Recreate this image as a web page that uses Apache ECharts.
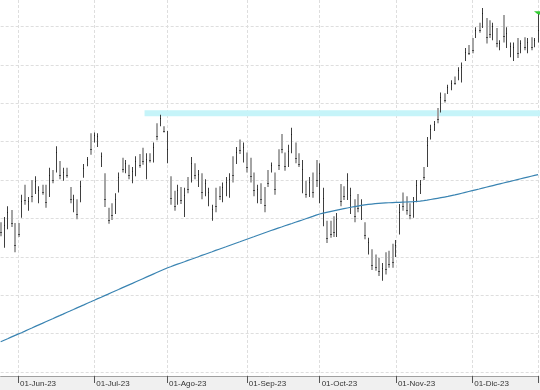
<!DOCTYPE html>
<html>
<head>
<meta charset="utf-8">
<script src="https://cdn.jsdelivr.net/npm/echarts@6/dist/echarts.min.js"></script>
<style>
html,body{margin:0;padding:0;}
#chart{width:540px;height:390px;background:linear-gradient(to bottom,#ffffff 0,#ffffff 376px,#f0f0f0 376px,#f0f0f0 390px);}
</style>
</head>
<body>
<div id="chart"></div>
<script>
const dates = [
'2023-05-25','2023-05-26','2023-05-29','2023-05-30','2023-05-31',
'2023-06-01','2023-06-02','2023-06-05','2023-06-06','2023-06-07','2023-06-08','2023-06-09','2023-06-12','2023-06-13','2023-06-14','2023-06-15','2023-06-16','2023-06-19','2023-06-20','2023-06-21','2023-06-22','2023-06-23','2023-06-26','2023-06-27','2023-06-28','2023-06-29','2023-06-30',
'2023-07-03','2023-07-04','2023-07-05','2023-07-06','2023-07-07','2023-07-10','2023-07-11','2023-07-12','2023-07-13','2023-07-14','2023-07-17','2023-07-18','2023-07-19','2023-07-20','2023-07-21','2023-07-24','2023-07-25','2023-07-26','2023-07-27','2023-07-28','2023-07-31',
'2023-08-01','2023-08-02','2023-08-03','2023-08-04','2023-08-07','2023-08-08','2023-08-09','2023-08-10','2023-08-11','2023-08-14','2023-08-15','2023-08-16','2023-08-17','2023-08-18','2023-08-21','2023-08-22','2023-08-23','2023-08-24','2023-08-25','2023-08-28','2023-08-29','2023-08-30','2023-08-31',
'2023-09-01','2023-09-04','2023-09-05','2023-09-06','2023-09-07','2023-09-08','2023-09-11','2023-09-12','2023-09-13','2023-09-14','2023-09-15','2023-09-18','2023-09-19','2023-09-20','2023-09-21','2023-09-22','2023-09-25','2023-09-26','2023-09-27','2023-09-28','2023-09-29',
'2023-10-02','2023-10-03','2023-10-04','2023-10-05','2023-10-06','2023-10-09','2023-10-10','2023-10-11','2023-10-12','2023-10-13','2023-10-16','2023-10-17','2023-10-18','2023-10-19','2023-10-20','2023-10-23','2023-10-24','2023-10-25','2023-10-26','2023-10-27','2023-10-30','2023-10-31',
'2023-11-01','2023-11-02','2023-11-03','2023-11-06','2023-11-07','2023-11-08','2023-11-09','2023-11-10','2023-11-13','2023-11-14','2023-11-15','2023-11-16','2023-11-17','2023-11-20','2023-11-21','2023-11-22','2023-11-23','2023-11-24','2023-11-27','2023-11-28','2023-11-29','2023-11-30',
'2023-12-01','2023-12-04','2023-12-05','2023-12-06','2023-12-07','2023-12-08','2023-12-11','2023-12-12','2023-12-13','2023-12-14','2023-12-15','2023-12-18','2023-12-19','2023-12-20','2023-12-21','2023-12-22','2023-12-27','2023-12-28','2023-12-29',
'2024-01-02'
];

const opens = [
8.91,8.72,8.94,9.06,8.85,8.90,9.08,9.37,9.14,9.43,
9.38,9.26,9.40,9.36,9.37,9.59,9.69,9.69,9.53,9.62,
9.36,9.14,9.19,9.28,9.57,9.71,10.04,10.03,9.97,9.72,
9.48,9.08,9.15,9.13,9.41,9.74,9.63,9.65,9.51,9.62,
9.79,9.86,9.60,9.82,9.80,10.19,10.24,10.18,9.80,9.46,
9.29,9.24,9.35,9.11,9.49,9.56,9.67,9.46,9.51,9.35,
9.22,9.02,9.32,9.38,9.28,9.35,9.35,9.73,9.76,9.98,
9.80,9.80,9.71,9.53,9.26,9.39,9.33,9.58,9.64,9.53,
9.84,10.04,9.80,9.74,9.93,9.93,9.81,9.44,9.43,9.34,
9.52,9.67,9.33,9.03,8.90,8.91,8.96,8.84,9.38,9.38,
9.33,9.14,9.18,9.26,9.05,8.90,8.58,8.54,8.47,8.43,
8.25,8.49,8.52,8.59,8.55,8.89,9.28,9.23,9.15,9.07,
9.29,9.36,9.63,9.77,10.08,10.17,10.39,10.45,10.60,10.65,
10.70,10.82,10.84,10.84,11.09,11.22,11.30,11.38,11.52,11.54,
11.53,11.52,11.38,11.41,11.22,11.56,11.28,11.15,11.11,11.28,
11.19,11.32,11.20,11.32,11.26,11.33
];
const highs = [
8.95,9.02,9.16,9.11,8.94,8.94,9.31,9.44,9.28,9.50,
9.55,9.42,9.44,9.44,9.66,9.63,9.94,9.75,9.66,9.66,
9.41,9.31,9.25,9.49,9.71,9.80,10.11,10.12,10.11,9.86,
9.59,9.14,9.20,9.33,9.60,9.79,9.76,9.70,9.67,9.81,
9.84,9.92,9.85,9.85,9.99,10.24,10.35,10.20,10.14,9.55,
9.36,9.44,9.41,9.40,9.54,9.80,9.72,9.63,9.59,9.51,
9.40,9.18,9.40,9.42,9.47,9.54,9.59,9.81,9.93,10.03,
9.99,9.86,9.79,9.60,9.44,9.46,9.41,9.63,9.73,9.60,
9.90,10.10,9.86,9.96,10.18,9.99,9.85,9.76,9.49,9.54,
9.60,9.76,9.72,9.40,8.97,8.97,9.03,9.07,9.45,9.42,
9.59,9.40,9.25,9.32,9.25,8.95,8.75,8.60,8.53,8.49,
8.42,8.56,8.58,8.67,8.72,9.19,9.34,9.29,9.20,9.28,
9.50,9.50,9.67,10.06,10.22,10.27,10.44,10.64,10.63,10.74,
10.80,10.85,10.97,11.03,11.22,11.26,11.35,11.49,11.55,11.74,
11.61,11.58,11.55,11.48,11.32,11.65,11.49,11.29,11.29,11.35,
11.32,11.36,11.35,11.36,11.35,11.68
];
const lows = [
8.77,8.62,8.86,8.89,8.56,8.76,9.01,9.18,9.10,9.21,
9.32,9.20,9.31,9.14,9.28,9.46,9.60,9.51,9.49,9.53,
9.20,9.08,8.99,9.21,9.53,9.68,9.83,9.99,9.93,9.67,
9.15,8.93,8.98,9.06,9.34,9.60,9.59,9.51,9.46,9.55,
9.66,9.70,9.51,9.73,9.73,10.02,10.20,10.12,9.72,9.18,
9.10,9.18,9.19,9.02,9.33,9.47,9.51,9.41,9.25,9.29,
9.16,8.97,9.08,9.24,9.21,9.29,9.27,9.47,9.71,9.84,
9.73,9.60,9.47,9.29,9.20,9.19,9.08,9.41,9.60,9.31,
9.63,9.85,9.62,9.67,9.85,9.72,9.67,9.33,9.27,9.28,
9.27,9.41,9.20,8.90,8.68,8.75,8.76,8.76,9.16,9.24,
9.24,9.06,8.95,9.08,8.98,8.73,8.53,8.33,8.32,8.25,
8.19,8.27,8.36,8.36,8.50,8.79,9.10,9.05,8.99,9.01,
9.21,9.32,9.50,9.67,10.03,10.14,10.24,10.38,10.51,10.62,
10.67,10.74,10.80,10.77,11.05,11.13,11.15,11.35,11.42,11.48,
11.28,11.35,11.32,11.23,11.19,11.29,11.22,11.10,11.05,11.09,
11.15,11.19,11.15,11.19,11.23,11.29
];
const closes = [
8.82,8.92,9.09,8.94,8.66,8.80,9.23,9.24,9.23,9.29,
9.49,9.37,9.34,9.21,9.56,9.50,9.86,9.57,9.61,9.56,
9.25,9.25,9.06,9.42,9.66,9.77,9.90,10.09,10.07,9.82,
9.26,8.98,9.04,9.26,9.54,9.65,9.72,9.56,9.62,9.75,
9.70,9.75,9.77,9.76,9.93,10.08,10.31,10.14,9.90,9.27,
9.16,9.37,9.24,9.30,9.38,9.72,9.56,9.58,9.34,9.46,
9.34,9.12,9.16,9.29,9.41,9.48,9.51,9.56,9.87,9.89,
9.93,9.67,9.55,9.37,9.38,9.26,9.17,9.46,9.70,9.38,
9.70,9.91,9.68,9.88,10.10,9.79,9.71,9.65,9.32,9.47,
9.35,9.50,9.59,9.27,8.75,8.80,8.83,8.99,9.23,9.29,
9.50,9.31,9.03,9.14,9.18,8.79,8.69,8.40,8.37,8.31,
8.36,8.34,8.41,8.43,8.66,9.09,9.16,9.11,9.04,9.21,
9.43,9.45,9.54,9.96,10.17,10.23,10.29,10.58,10.54,10.71,
10.77,10.77,10.93,10.97,11.17,11.16,11.20,11.45,11.46,11.67,
11.36,11.40,11.50,11.29,11.29,11.38,11.42,11.25,11.23,11.15,
11.28,11.23,11.30,11.23,11.32,11.45
];
const ma = [
7.394,7.414,7.434,7.455,7.475,7.494,7.513,7.533,7.554,7.574,
7.595,7.615,7.634,7.655,7.675,7.695,7.716,7.735,7.755,7.776,
7.795,7.815,7.836,7.855,7.875,7.896,7.915,7.935,7.956,7.975,
7.995,8.015,8.036,8.056,8.075,8.096,8.116,8.136,8.155,8.176,
8.196,8.216,8.236,8.256,8.276,8.296,8.316,8.336,8.356,8.372,
8.389,8.405,8.421,8.437,8.454,8.470,8.486,8.502,8.519,8.535,
8.551,8.567,8.584,8.600,8.616,8.632,8.649,8.665,8.681,8.697,
8.714,8.730,8.746,8.762,8.779,8.795,8.811,8.827,8.843,8.859,
8.874,8.889,8.905,8.920,8.935,8.951,8.966,8.981,8.997,9.012,
9.027,9.043,9.058,9.069,9.080,9.090,9.100,9.110,9.119,9.128,
9.137,9.146,9.154,9.162,9.170,9.177,9.183,9.188,9.193,9.197,
9.200,9.203,9.205,9.207,9.209,9.211,9.213,9.215,9.217,9.219,
9.222,9.226,9.232,9.239,9.247,9.255,9.263,9.271,9.279,9.287,
9.297,9.307,9.318,9.329,9.340,9.351,9.362,9.373,9.384,9.396,
9.407,9.418,9.429,9.440,9.451,9.462,9.473,9.484,9.495,9.506,
9.517,9.528,9.539,9.550,9.561,9.572
];
const band = [[42, 10.33, 10.41]];
const monthTickDates = ['2023-06-01','2023-07-03','2023-08-01','2023-09-01','2023-10-02','2023-11-01','2023-12-01','2024-01-02'];
const monthTickLabels = ['01-Jun-23','01-Jul-23','01-Ago-23','01-Sep-23','01-Oct-23','01-Nov-23','01-Dic-23','01-Ene-24'];

const ohlc = dates.map((d, i) => [i, opens[i], highs[i], lows[i], closes[i]]);
const isMonthTick = (idx, val) => monthTickDates.indexOf(val) >= 0;

const chart = echarts.init(document.getElementById('chart'), null, {renderer: 'canvas'});
chart.setOption({
  animation: false,
  backgroundColor: 'transparent',
  grid: {left: 0.67, right: 1.95, top: 0, bottom: 14, containLabel: false, outerBoundsMode: 'none'},
  xAxis: {
    type: 'category',
    data: dates,
    boundaryGap: false,
    axisLine: {show: true, lineStyle: {color: '#a0a0a0', width: 1}},
    axisTick: {show: true, interval: isMonthTick, length: 7, lineStyle: {color: '#555555'}},
    axisLabel: {
      show: true, interval: isMonthTick, align: 'left', margin: 4,
      fontFamily: 'Liberation Sans', fontSize: 8, color: '#333333', padding: [0,0,0,2],
      formatter: v => monthTickLabels[monthTickDates.indexOf(v)]
    },
    splitLine: {show: true, interval: isMonthTick, lineStyle: {color: '#dedede', type: [3, 2], width: 1}}
  },
  yAxis: {
    type: 'value', min: 6.949, max: 11.845, minInterval: 0.5, maxInterval: 0.5,
    axisLine: {show: false}, axisTick: {show: false}, axisLabel: {show: false},
    splitLine: {show: true, showMinLine: false, showMaxLine: false, lineStyle: {color: '#dedede', type: [3, 2], width: 1}}
  },
  series: [
    {
      type: 'custom', name: 'band', data: band, z: 1, silent: true,
      encode: {x: 0, y: [1, 2]},
      renderItem: function (params, api) {
        const half = api.size([1, 0])[0] / 2;
        const p1 = api.coord([api.value(0), api.value(2)]);
        const p2 = api.coord([api.value(0), api.value(1)]);
        const right = params.coordSys.x + params.coordSys.width + 3;
        return {type: 'rect', shape: {x: p1[0] - half, y: p1[1], width: right - p1[0] + half, height: p2[1] - p1[1]}, style: {fill: '#c6f4f9'}};
      }
    },
    {
      type: 'custom', name: 'ohlc', data: ohlc, z: 3, silent: true,
      encode: {x: 0, y: [1, 2, 3, 4]},
      renderItem: function (params, api) {
        const i = api.value(0);
        const o = api.value(1), h = api.value(2), l = api.value(3), c = api.value(4);
        const pH = api.coord([i, h]), pL = api.coord([i, l]), pC = api.coord([i, c]);
        const up = c >= o;
        const X = Math.floor(pH[0]);
        const w = up ? 1 : 2;
        const x0 = X;
        const children = [
          {type: 'rect', shape: {x: x0, y: pH[1], width: w, height: Math.max(1, pL[1] - pH[1])}, style: {fill: up ? '#3f3f3f' : '#a4a4a4'}},
          {type: 'rect', shape: {x: x0, y: Math.round(pC[1]), width: w, height: 1}, style: {fill: up ? '#1e1e1e' : '#4a4a4a'}}
        ];
        if (params.dataIndex === params.dataInsideLength - 1) {
          children.push({type: 'polygon', shape: {points: [[X - 4, pH[1] - 1.5], [X + 2, pH[1] - 1.5], [X + 2, pH[1] + 2], [X - 1, pH[1] + 1]]}, style: {fill: '#33cc33'}});
        }
        return {type: 'group', children: children};
      }
    },
    {
      type: 'line', name: 'MA', data: ma, z: 4, symbol: 'none', clip: false, silent: true,
      lineStyle: {color: '#3a84b2', width: 1.2}
    }
  ]
});
</script>
</body>
</html>
